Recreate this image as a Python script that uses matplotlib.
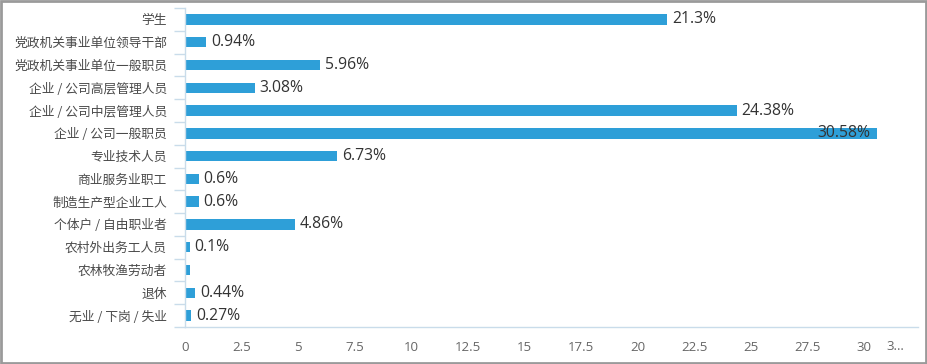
import numpy as np
import matplotlib.pyplot as plt
from matplotlib.patches import Rectangle

plt.rcParams['font.family'] = ['Noto Sans CJK SC', 'DejaVu Sans']

categories = ['学生', '党政机关事业单位领导干部', '党政机关事业单位一般职员',
              '企业 / 公司高层管理人员', '企业 / 公司中层管理人员', '企业 / 公司一般职员',
              '专业技术人员', '商业服务业职工', '制造生产型企业工人', '个体户 / 自由职业者',
              '农村外出务工人员', '农林牧渔劳动者', '退休', '无业 / 下岗 / 失业']
values = [21.3, 0.94, 5.96, 3.08, 24.38, 30.58, 6.73, 0.6, 0.6, 4.86, 0.1, 0.0, 0.44, 0.27]
labels = ['21.3%', '0.94%', '5.96%', '3.08%', '24.38%', '30.58%', '6.73%', '0.6%',
          '0.6%', '4.86%', '0.1%', '', '0.44%', '0.27%']
xticks = [0, 2.5, 5, 7.5, 10, 12.5, 15, 17.5, 20, 22.5, 25, 27.5, 30]

bar_color = '#2e9fd8'
axis_color = '#c9dcea'
num_font = ['Open Sans', 'DejaVu Sans']

fig = plt.figure(figsize=(9.28, 3.64), dpi=100)
ax = fig.add_axes([185 / 928, 1 - 327 / 364, (918 - 185) / 928, (327 - 8) / 364])

y = np.arange(len(categories))
# small bars still get a visible sliver, like the original
shown = [max(v, 0.2) for v in values]
ax.barh(y, shown, height=0.46, color=bar_color)

for i, (v, lab) in enumerate(zip(values, labels)):
    if not lab:
        continue
    if v > 30:
        ax.text(v - 0.3, i, lab, ha='right', va='center', fontsize=11.3,
                color='#333333', family=num_font)
    else:
        ax.text(max(v, 0.2) + 0.22, i, lab, ha='left', va='center', fontsize=11.3,
                color='#333333', family=num_font)

ax.set_ylim(len(categories) - 0.5, -0.5)
ax.set_xlim(0, 32.4)
ax.set_yticks(y)
ax.set_yticklabels(categories, fontsize=9.2, color='#4a4a4a')
ax.set_yticks(np.arange(len(categories) + 1) - 0.5, minor=True)
ax.tick_params(axis='y', which='major', length=0, pad=13)
ax.tick_params(axis='y', which='minor', length=8, color=axis_color, width=1)

ax.set_xticks(xticks)
ax.set_xticklabels([('%g' % t) for t in xticks], fontsize=9.5, color='#666666',
                   family=num_font)
ax.tick_params(axis='x', length=0, pad=10)
ax.text(31.4, -0.062, '3…', transform=ax.get_xaxis_transform(), ha='center', va='center',
        fontsize=9.5, color='#666666', family=num_font)

for s in ['top', 'right']:
    ax.spines[s].set_visible(False)
for s in ['left', 'bottom']:
    ax.spines[s].set_color(axis_color)
    ax.spines[s].set_linewidth(1)

fig.patches.append(Rectangle((0.001, 0.002), 0.997, 0.995, transform=fig.transFigure,
                             fill=False, edgecolor='#9a9a9a', linewidth=2))

fig.savefig('out.png', dpi=100)
